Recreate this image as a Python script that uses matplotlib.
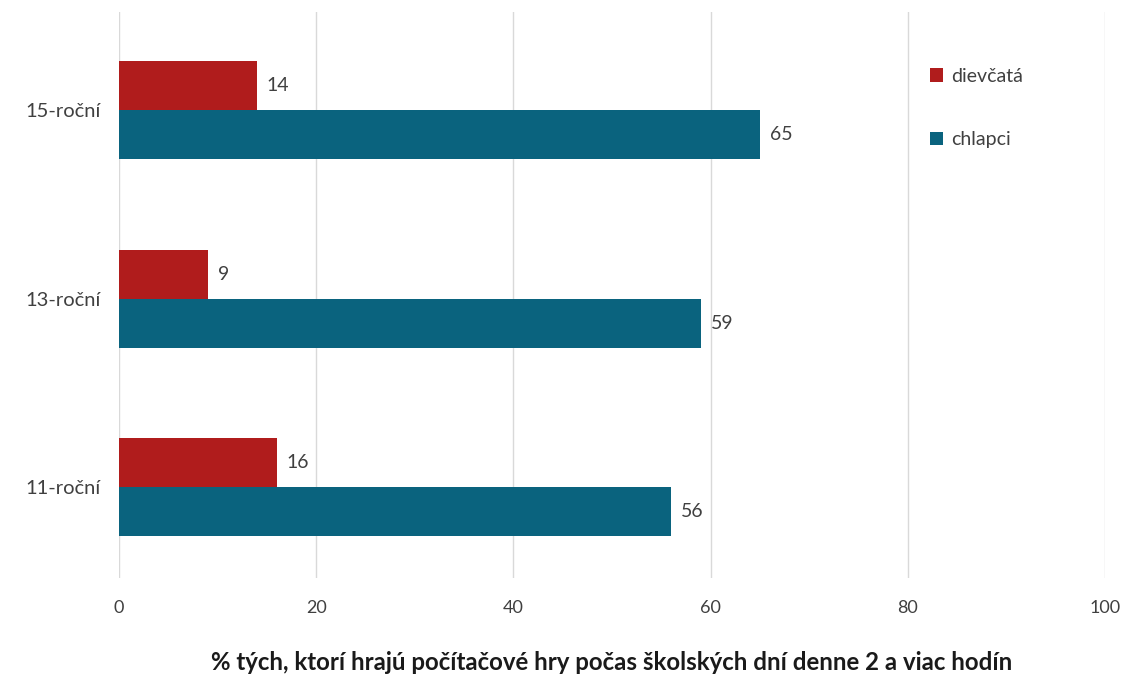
import matplotlib
matplotlib.use("Agg")
import matplotlib.pyplot as plt
import numpy as np

categories = ["11-roční", "13-roční", "15-roční"]
girls = [16, 9, 14]
boys = [56, 59, 65]
series_labels = ["dievčatá", "chlapci"]
x_ticks = [0, 20, 40, 60, 80, 100]
x_label = "% tých, ktorí hrajú počítačové hry počas školských dní denne 2 a viac hodín"

red = "#B01C1C"
blue = "#0A637E"
text_gray = "#404040"

plt.rcParams["font.family"] = ["Lato", "DejaVu Sans"]

fig = plt.figure(figsize=(11.26, 6.77), dpi=100)
ax = fig.add_axes([119 / 1126, 1 - 578 / 677, (1105 - 119) / 1126, (578 - 12) / 677])

y = np.arange(len(categories))
h = 0.26
b1 = ax.barh(y + h / 2, girls, height=h, color=red, label=series_labels[0], zorder=3)
b2 = ax.barh(y - h / 2, boys, height=h, color=blue, label=series_labels[1], zorder=3)

for bars, vals in ((b1, girls), (b2, boys)):
    for bar, v in zip(bars, vals):
        ax.text(v + 1.0, bar.get_y() + bar.get_height() / 2, f"{v}",
                va="center", ha="left", fontsize=14, color=text_gray)

ax.set_xlim(0, 100)
ax.set_ylim(-0.48, 2.52)
ax.set_xticks(x_ticks)
ax.set_xticklabels([str(t) for t in x_ticks])
ax.set_yticks(y)
ax.set_yticklabels(categories)
ax.tick_params(axis="both", length=0, colors=text_gray)
ax.tick_params(axis="x", pad=16, labelsize=13)
ax.tick_params(axis="y", pad=13, labelsize=14.5)
ax.grid(axis="x", color="#D9D9D9", linewidth=1.0, zorder=0)
for s in ax.spines.values():
    s.set_visible(False)

ax.set_xlabel(x_label, fontsize=17.3, fontweight="bold", color="#1a1a1a", labelpad=25)

leg = ax.legend(loc="upper left", bbox_to_anchor=(922 / 1126, 1 - 60 / 677),
                bbox_transform=fig.transFigure, frameon=False, fontsize=14,
                handlelength=0.7, handleheight=0.7, handletextpad=0.4,
                labelspacing=2.4, borderaxespad=0)
for t in leg.get_texts():
    t.set_color(text_gray)

fig.savefig("out.png", dpi=100, facecolor="white")
